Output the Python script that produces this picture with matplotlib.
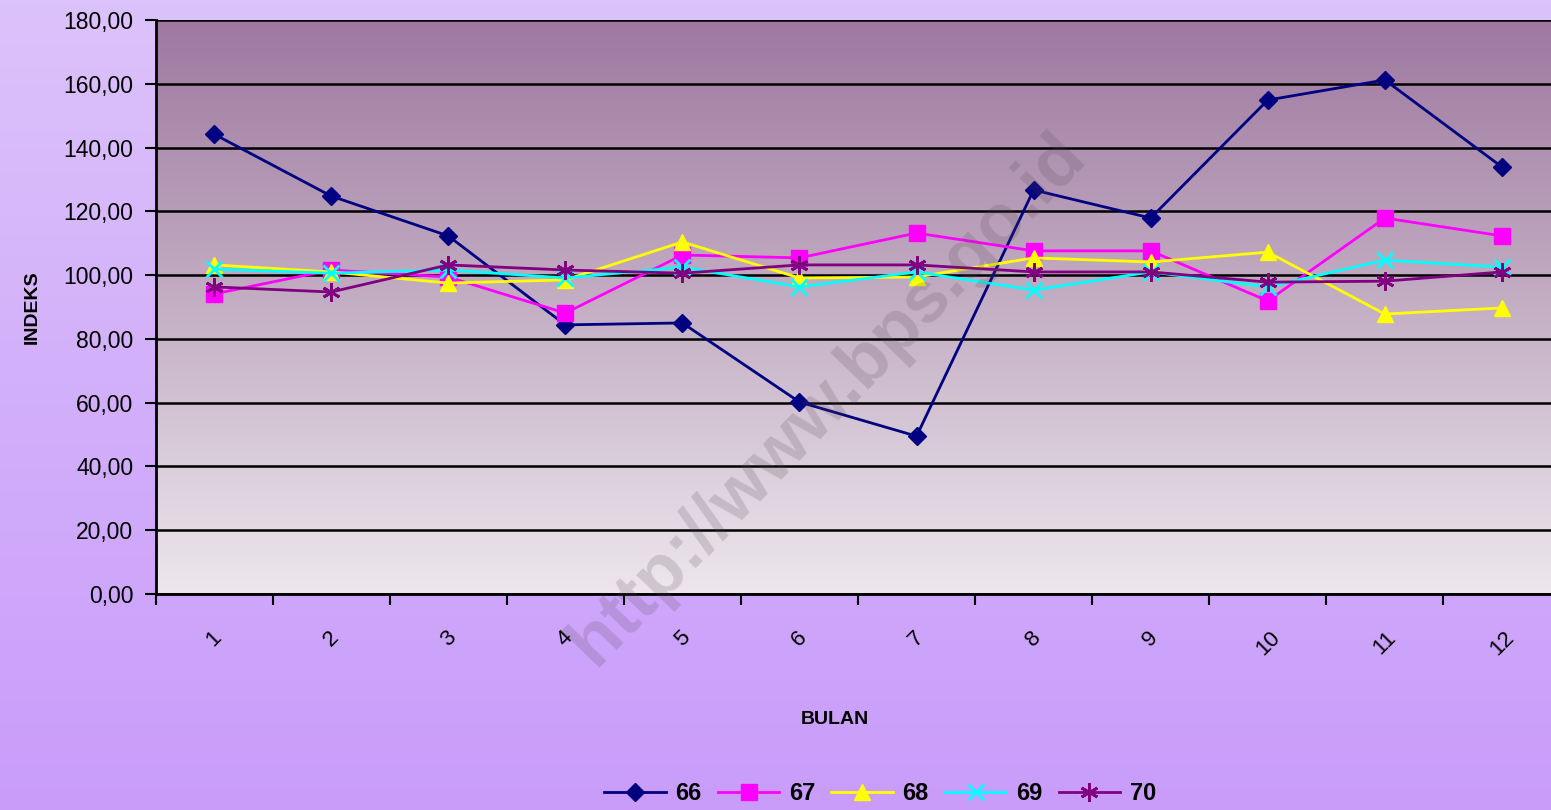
import numpy as np
import matplotlib.pyplot as plt
from matplotlib.ticker import FuncFormatter
from matplotlib.colors import LinearSegmentedColormap

# Monthly index values per series
bulan = ['1', '2', '3', '4', '5', '6', '7', '8', '9', '10', '11', '12']
s66 = [144.2, 124.8, 112.3, 84.4, 85.0, 60.2, 49.5, 126.7, 117.9, 154.9, 161.2, 133.9]
s67 = [94.1, 101.6, 99.4, 88.1, 106.3, 105.4, 113.2, 107.6, 107.6, 91.9, 117.9, 112.3]
s68 = [103.2, 101.0, 97.5, 98.5, 110.4, 99.1, 99.4, 105.4, 104.1, 107.2, 87.8, 89.7]
s69 = [101.9, 100.6, 101.6, 99.1, 102.5, 96.3, 101.0, 95.3, 101.0, 96.3, 104.7, 102.5]
s70 = [96.3, 94.7, 103.2, 101.6, 100.6, 103.2, 103.2, 101.0, 101.0, 97.8, 98.1, 101.0]

series = [
    ('66', s66, '#000080', 'D', 9),
    ('67', s67, '#ff00ff', 's', 11),
    ('68', s68, '#ffff00', '^', 12),
    ('69', s69, '#00ffff', 'x', 11),
    ('70', s70, '#800080', (6, 2, 0), 13),
]

plt.rcParams['font.family'] = ['Liberation Sans', 'DejaVu Sans']

fig = plt.figure(figsize=(15.51, 8.10), dpi=100)

# figure background gradient (light lavender -> violet)
bg = fig.add_axes([0, 0, 1, 1], zorder=-10)
grad = np.linspace(0, 1, 256).reshape(-1, 1)
fig_cmap = LinearSegmentedColormap.from_list('figbg', ['#dcc2fa', '#c99cfb'])
bg.imshow(grad, aspect='auto', cmap=fig_cmap, extent=[0, 1, 0, 1])
bg.axis('off')

ax = fig.add_axes([155.5 / 1551, 216 / 810, 1405 / 1551, 574 / 810])
ax.set_facecolor('none')
plot_cmap = LinearSegmentedColormap.from_list('plotbg', ['#9e78a0', '#c4afc4', '#ede7ed'])
x = np.arange(len(bulan))
ax.imshow(grad, aspect='auto', cmap=plot_cmap, extent=[-0.5, len(bulan) - 0.5, 0, 180],
          zorder=0, interpolation='bicubic')

ax.set_xlim(-0.5, len(bulan) - 0.5)
ax.set_ylim(0, 180)
ax.set_yticks(np.arange(0, 181, 20))
ax.yaxis.set_major_formatter(FuncFormatter(lambda v, p: f'{v:.2f}'.replace('.', ',')))
ax.grid(axis='y', color='black', linewidth=1.8, zorder=1)

# category boundary ticks + centred rotated labels
ax.set_xticks(np.arange(len(bulan) + 1) - 0.5)
ax.set_xticklabels([])
ax.set_xticks(x, minor=True)
ax.set_xticklabels(bulan, minor=True, rotation=45, fontsize=16, ha='center')
ax.tick_params(axis='x', which='minor', length=0, pad=24)
ax.tick_params(axis='x', which='major', length=8, width=1.5, direction='out')
ax.tick_params(axis='y', length=8, width=1.5, labelsize=16.5, pad=8)

for sp in ['top', 'right']:
    ax.spines[sp].set_visible(False)
for sp in ['left', 'bottom']:
    ax.spines[sp].set_linewidth(2)

for name, vals, col, mk, ms in series:
    kw = dict(markeredgewidth=2) if mk in ('x', (6, 2, 0)) else dict(markeredgecolor=col)
    ax.plot(x, vals, color=col, marker=mk, markersize=ms, linewidth=2, label=name,
            zorder=3, clip_on=False, **kw)

ax.set_ylabel('INDEKS', fontsize=14, fontweight='bold')
ax.yaxis.set_label_coords(-0.082, 0.5)
fig.text(835 / 1551, 1 - 719 / 810, 'BULAN', fontsize=14, fontweight='bold',
         ha='center', va='center')

# watermark
fig.text(828 / 1551, 1 - 400 / 810, 'http://www.bps.go.id', fontsize=52, fontweight='bold',
         color='#5a4a5a', alpha=0.2, rotation=46, ha='center', va='center', zorder=5)

handles, labels = ax.get_legend_handles_labels()
leg = fig.legend(handles, labels, loc='center', bbox_to_anchor=(880 / 1551, 1 - 794 / 810),
                 ncol=5, frameon=False, prop={'size': 17, 'weight': 'bold'},
                 handlelength=2.6, columnspacing=0.7, handletextpad=0.4)

fig.savefig('out.png', dpi=100)
